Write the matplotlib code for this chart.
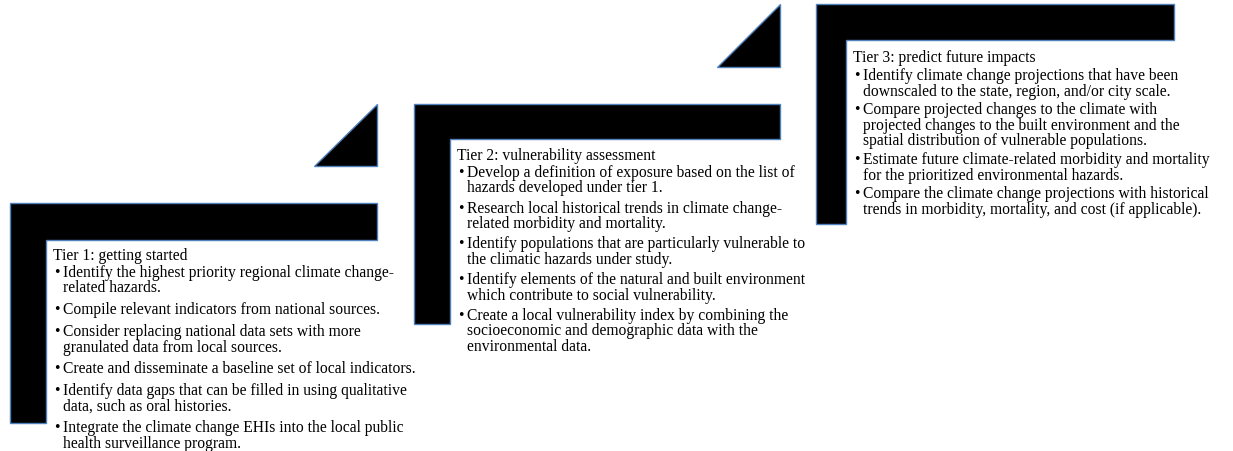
import matplotlib
matplotlib.use("Agg")
import matplotlib.pyplot as plt
from matplotlib.patches import Polygon

# ---- content ----
tier_titles = [
    "Tier 1: getting started",
    "Tier 2: vulnerability assessment",
    "Tier 3: predict future impacts",
]

tier1_bullets = [
    ["Identify the highest priority regional climate change-", "related hazards."],
    ["Compile relevant indicators from national sources."],
    ["Consider replacing national data sets with more", "granulated data from local sources."],
    ["Create and disseminate a baseline set of local indicators."],
    ["Identify data gaps that can be filled in using qualitative", "data, such as oral histories."],
    ["Integrate the climate change EHIs into the local public", "health surveillance program."],
]

tier2_bullets = [
    ["Develop a definition of exposure based on the list of", "hazards developed under tier 1."],
    ["Research local historical trends in climate change-", "related morbidity and mortality."],
    ["Identify populations that are particularly vulnerable to", "the climatic hazards under study."],
    ["Identify elements of the natural and built environment", "which contribute to social vulnerability."],
    ["Create a local vulnerability index by combining the", "socioeconomic and demographic data with the",
     "environmental data."],
]

tier3_bullets = [
    ["Identify climate change projections that have been", "downscaled to the state, region, and/or city scale."],
    ["Compare projected changes to the climate with", "projected changes to the built environment and the",
     "spatial distribution of vulnerable populations."],
    ["Estimate future climate-related morbidity and mortality", "for the prioritized environmental hazards."],
    ["Compare the climate change projections with historical", "trends in morbidity, mortality, and cost (if applicable)."],
]

tier_bullets = [tier1_bullets, tier2_bullets, tier3_bullets]

# ---- layout (pixels, y down) ----
# each step: left, top, right, bar bottom, inner x, bottom, triangle left, triangle top
steps = [
    dict(l=10, t=204, r=377, bb=241, ix=46, b=424, tl=314, tt=105),
    dict(l=414, t=105, r=780, bb=140, ix=450, b=325, tl=717, tt=5),
    dict(l=816, t=5, r=1174, bb=41, ix=846, b=225, tl=None, tt=None),
]
# title y, first line y, line step, extra gap between bullets
text_rows = [
    (256, 273, 15.5, 6.3),
    (156, 173, 15.5, 4.75),
    (58, 76, 15.5, 3.3),
]

EDGE = "#4f81bd"
FONT = ["Liberation Serif", "DejaVu Serif"]

fig = plt.figure(figsize=(12.33, 4.52), dpi=100)
ax = fig.add_axes([0, 0, 1, 1])
ax.set_xlim(0, 1233)
ax.set_ylim(452, 0)
ax.axis("off")

# fit the font size so a reference line has roughly the reference width
renderer = fig.canvas.get_renderer()
probe = ax.text(0, 0, "Create and disseminate a baseline set of local indicators.",
                family=FONT, fontsize=10)
w = probe.get_window_extent(renderer).width
probe.remove()
fs = 10 * 354.0 / w

for s, title, bullets, (ty, y0, step, gap) in zip(steps, tier_titles, tier_bullets, text_rows):
    pts = [(s["l"], s["t"]), (s["r"], s["t"]), (s["r"], s["bb"]),
           (s["ix"], s["bb"]), (s["ix"], s["b"]), (s["l"], s["b"])]
    ax.add_patch(Polygon(pts, closed=True, facecolor="black", edgecolor=EDGE, linewidth=1.0))
    if s["tl"] is not None:
        base = s["t"] - 37
        tri = [(s["tl"], base), (s["r"], base), (s["r"], s["tt"])]
        ax.add_patch(Polygon(tri, closed=True, facecolor="black", edgecolor=EDGE, linewidth=1.0))

    tx = s["ix"] + 7
    ax.text(tx, ty, title, family=FONT, fontsize=fs, va="center", ha="left")
    y = y0
    for lines in bullets:
        ax.text(tx + 1, y, "\u2022", family=FONT, fontsize=fs, va="center", ha="left")
        for ln in lines:
            ax.text(tx + 10, y, ln, family=FONT, fontsize=fs, va="center", ha="left")
            y += step
        y += gap

fig.savefig("out.png", dpi=100)
